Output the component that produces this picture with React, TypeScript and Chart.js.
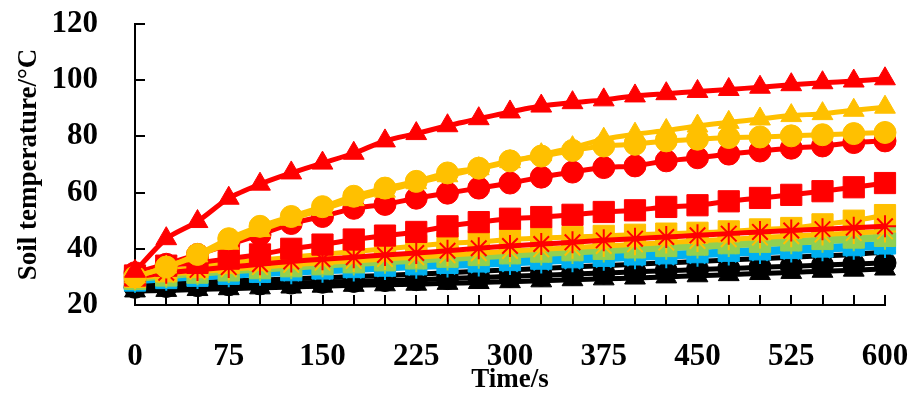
import React, { useEffect, useRef } from 'react';
import { Chart, registerables } from 'chart.js';

Chart.register(...registerables);

const times = [0, 25, 50, 75, 100, 125, 150, 175, 200, 225, 250, 275, 300, 325, 350, 375, 400, 425, 450, 475, 500, 525, 550, 575, 600];
const xTickLabels = [0, 75, 150, 225, 300, 375, 450, 525, 600];
const yTicks = [20, 40, 60, 80, 100, 120];

const redTriangle = [32, 43.6, 49.7, 58, 63, 67, 70.5, 74, 78.4, 81, 83.8, 86.3, 88.7, 90.8, 92, 93, 94.4, 95.2, 96, 96.7, 97.5, 98.4, 99.1, 99.7, 100.5];
const orangeTriangle = [30, 33.5, 37.5, 42, 46.5, 50.5, 54, 57.5, 60.5, 63.5, 66, 68.5, 71, 73.5, 76, 79, 80.8, 82.1, 83.7, 85, 86.2, 87.4, 88.1, 89.3, 90.4];
const orangeCircle = [30, 33.5, 38, 43.6, 48, 51.5, 55, 58.7, 61.6, 64, 67, 68.7, 71.3, 73, 75, 76.6, 77.2, 78.4, 79, 79.6, 79.8, 80.2, 80.6, 81, 81.4];
const redCircle = [31.5, 34.5, 38, 41.5, 45, 49, 51.5, 54.4, 55.8, 58, 59.8, 61.6, 63.4, 65.5, 67.3, 68.9, 69.5, 71.3, 72.4, 73.7, 74.8, 75.8, 76.6, 77.8, 78.4];
const redSquare = [30.5, 34, 35, 36.5, 38, 40, 41.5, 43.3, 44.7, 46, 48, 49.5, 50.7, 51.3, 52.1, 53.1, 53.7, 54.9, 55.5, 56.9, 58.1, 59.2, 60.5, 61.9, 63.4];
const orangeSquare = [30, 32, 33.5, 35, 36, 37, 38, 39, 40, 41, 42, 42.5, 43.3, 43.8, 44.2, 44.6, 45, 45.4, 45.7, 46.2, 46.9, 47.4, 48.7, 50, 52];
const redStar = [30, 31.5, 32.5, 33.5, 34.5, 35.5, 36.3, 37, 37.8, 38.5, 39.3, 40.2, 41, 41.7, 42.3, 43, 43.6, 44.2, 44.8, 45.4, 46, 46.5, 47, 47.5, 48];
const orangeStar = [29.5, 30.8, 31.8, 32.7, 33.5, 34.3, 35, 35.7, 36.4, 37, 37.7, 38.4, 39.2, 39.8, 40.4, 41, 41.6, 42.2, 42.8, 43.4, 44, 44.5, 45.1, 45.6, 46.2];
const greenSquare = [29.3, 30.5, 31.5, 32.3, 33.1, 33.8, 34.5, 35.2, 35.9, 36.6, 37.2, 37.8, 38.4, 39, 39.5, 40, 40.5, 41, 41.5, 42, 42.5, 43, 43.5, 44, 44.6];
const greenStar = [29, 30, 30.9, 31.7, 32.4, 33.1, 33.8, 34.4, 35, 35.6, 36.2, 36.8, 37.4, 38, 38.5, 39, 39.5, 40, 40.5, 41, 41.5, 42, 42.5, 43, 43.6];
const blueSquare = [28.7, 29.6, 30.4, 31.1, 31.8, 32.4, 33, 33.5, 34, 34.5, 35, 35.5, 36, 36.5, 37, 37.5, 38, 38.4, 38.8, 39.3, 39.8, 40.3, 40.8, 41.3, 41.9];
const blueStar = [28.3, 29, 29.6, 30.2, 30.8, 31.3, 31.8, 32.3, 32.8, 33.3, 33.7, 34.1, 34.6, 35.1, 35.6, 36.1, 36.6, 37, 37.5, 38, 38.5, 39, 39.5, 40, 40.6];
const blackStar = [27.5, 27.8, 28.1, 28.5, 28.9, 29.3, 29.7, 30.1, 30.5, 31, 31.5, 32, 32.5, 33, 33.5, 34, 34.5, 35, 35.5, 36, 36.5, 37, 37.5, 38, 38.8];
const blackCircle = [26.3, 26.6, 26.9, 27.2, 27.5, 27.8, 28.1, 28.4, 28.7, 29, 29.4, 29.8, 30.2, 30.6, 31, 31.4, 31.8, 32.2, 32.6, 33, 33.4, 33.8, 34.2, 34.6, 35];
const blackTriangle = [25, 25.2, 25.5, 25.8, 26.1, 26.4, 26.7, 27, 27.2, 27.4, 27.7, 28, 28.3, 28.6, 29, 29.3, 29.6, 30, 30.4, 30.8, 31.2, 31.6, 32, 32.4, 32.8];

const RED = '#FF0000';
const ORANGE = '#FFC000';
const GREEN = '#92D050';
const BLUE = '#00B0F0';
const BLACK = '#000000';

const FONT = "'Liberation Serif', 'Times New Roman', serif";

function makeSet(label: string, values: number[], color: string, style: string) {
  let radius = 11;
  let pbw = 1;
  if (style === 'triangle') radius = 12;
  if (style === 'rect') radius = 15;
  if (style === 'star') { radius = 11; pbw = 2; }
  return {
    label,
    data: values.map((v, i) => ({ x: times[i], y: v })),
    borderColor: color,
    backgroundColor: color,
    borderWidth: 5,
    pointStyle: style,
    pointRadius: radius,
    pointBackgroundColor: color,
    pointBorderColor: color,
    pointBorderWidth: pbw,
    tension: 0.25,
    clip: false as const,
  };
}

const innerTicks = {
  id: 'innerTicks',
  beforeDatasetsDraw(chart: any) {
    const { ctx, scales } = chart;
    const x = scales.x;
    const y = scales.y;
    ctx.save();
    ctx.strokeStyle = '#000';
    ctx.lineWidth = 2;
    const left = x.left;
    const bottom = y.bottom;
    for (const t of times) {
      const px = Math.round(x.getPixelForValue(t));
      ctx.beginPath();
      ctx.moveTo(px, bottom);
      ctx.lineTo(px, bottom - 10);
      ctx.stroke();
    }
    for (const t of yTicks) {
      const py = Math.round(y.getPixelForValue(t));
      ctx.beginPath();
      ctx.moveTo(left, py);
      ctx.lineTo(left + 10, py);
      ctx.stroke();
    }
    ctx.restore();
  },
};

export default function App() {
  const ref = useRef<HTMLCanvasElement | null>(null);
  useEffect(() => {
    if (!ref.current) return;
    // first in list is drawn on top
    const datasets = [
      makeSet('Red triangle', redTriangle, RED, 'triangle'),
      makeSet('Orange triangle', orangeTriangle, ORANGE, 'triangle'),
      makeSet('Orange circle', orangeCircle, ORANGE, 'circle'),
      makeSet('Red circle', redCircle, RED, 'circle'),
      makeSet('Red square', redSquare, RED, 'rect'),
      makeSet('Red star', redStar, RED, 'star'),
      makeSet('Orange square', orangeSquare, ORANGE, 'rect'),
      makeSet('Orange star', orangeStar, ORANGE, 'star'),
      makeSet('Green star', greenStar, GREEN, 'star'),
      makeSet('Green square', greenSquare, GREEN, 'rect'),
      makeSet('Blue star', blueStar, BLUE, 'star'),
      makeSet('Blue square', blueSquare, BLUE, 'rect'),
      makeSet('Black star', blackStar, BLACK, 'star'),
      makeSet('Black circle', blackCircle, BLACK, 'circle'),
      makeSet('Black triangle', blackTriangle, BLACK, 'triangle'),
    ];
    const chart = new Chart(ref.current, {
      type: 'line',
      data: { datasets },
      plugins: [innerTicks],
      options: {
        animation: false,
        responsive: true,
        maintainAspectRatio: false,
        layout: { padding: { top: 24, right: 30, left: 0, bottom: 0 } },
        plugins: { legend: { display: false }, tooltip: { enabled: false } },
        scales: {
          x: {
            type: 'linear',
            min: 0,
            max: 600,
            afterFit: (s: any) => {
              s.height = 91;
              s.paddingLeft = 0;
              s.paddingRight = 0;
            },
            grid: { display: false, drawTicks: false },
            border: { display: true, color: '#000', width: 2 },
            ticks: {
              stepSize: 25,
              autoSkip: false,
              maxRotation: 0,
              padding: 33,
              color: '#000',
              font: { family: FONT, size: 31, weight: 'bold' },
              callback: (v: any) => (xTickLabels.includes(Number(v)) ? String(v) : ''),
            },
            title: {
              display: true,
              text: 'Time/s',
              color: '#000',
              font: { family: FONT, size: 27, weight: 'bold' },
              padding: { top: 0, bottom: 0 },
            },
          },
          y: {
            type: 'linear',
            min: 20,
            max: 120,
            afterFit: (s: any) => {
              s.width = 135;
              s.paddingTop = 0;
              s.paddingBottom = 0;
            },
            grid: { display: false, drawTicks: false },
            border: { display: true, color: '#000', width: 2 },
            ticks: {
              stepSize: 20,
              padding: 37,
              color: '#000',
              font: { family: FONT, size: 31, weight: 'bold' },
            },
            title: {
              display: true,
              text: 'Soil temperature/°C',
              color: '#000',
              font: { family: FONT, size: 27, weight: 'bold' },
              padding: { top: 13, bottom: 0 },
            },
          },
        },
      },
    });
    return () => chart.destroy();
  }, []);
  return (
    <div style={{ position: 'absolute', left: 0, top: 0, width: 915, height: 396 }}>
      <canvas ref={ref} />
    </div>
  );
}
